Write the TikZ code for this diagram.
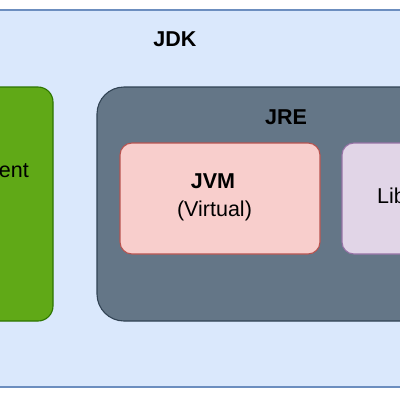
\documentclass[tikz,border=0pt]{standalone}
\usepackage{fontspec}
\setmainfont{Liberation Sans}
\definecolor{jdkfill}{HTML}{DAE8FC}
\definecolor{jdkline}{HTML}{6C8EBF}
\definecolor{devfill}{HTML}{60A917}
\definecolor{devline}{HTML}{2D7600}
\definecolor{jrefill}{HTML}{647687}
\definecolor{jreline}{HTML}{314354}
\definecolor{jvmfill}{HTML}{F8CECC}
\definecolor{jvmline}{HTML}{B85450}
\definecolor{libfill}{HTML}{E1D5E7}
\definecolor{libline}{HTML}{9673A6}
\tikzset{
  box/.style={draw, line width=1.1pt, inner sep=0pt, outer sep=0pt, anchor=north west},
  lbl/.style={inner sep=0pt, anchor=base, font=\fontsize{21.5}{24}\selectfont},
  blbl/.style={lbl, font=\fontsize{21.5}{24}\selectfont\bfseries},
}
\begin{document}
\begin{tikzpicture}[x=1pt,y=-1pt]
\useasboundingbox (0,0) rectangle (400,400);
\clip (0,0) rectangle (400,400);
\fill[white] (0,0) rectangle (400,400);
\node[box, fill=jdkfill, draw=jdkline, minimum width=500pt, minimum height=377pt] (jdk) at (-50,10) {};
\node[box, fill=devfill, draw=devline, rounded corners=15pt, minimum width=253pt, minimum height=234pt] (dev) at (-200,87) {};
\node[box, fill=jrefill, draw=jreline, rounded corners=27pt, minimum width=503pt, minimum height=234pt] (jre) at (97,87) {};
\node[box, fill=jvmfill, draw=jvmline, rounded corners=12pt, minimum width=200pt, minimum height=111pt] (jvm) at (120,143) {};
\node[box, fill=libfill, draw=libline, rounded corners=12pt, minimum width=200pt, minimum height=111pt] (lib) at (342,143) {};
\node[blbl] (jdkt) at (175,46) {JDK};
\node[blbl] (jret) at (286,124) {JRE};
\node[blbl] (jvmt) at (213,188.5) {JVM};
\node[lbl] (virt) at (214.5,216) {(Virtual)};
\node[lbl, anchor=base east] (devt) at (29,177) {Development};
\node[lbl, anchor=base west] (libt) at (377,203) {Libraries};
\end{tikzpicture}
\end{document}
